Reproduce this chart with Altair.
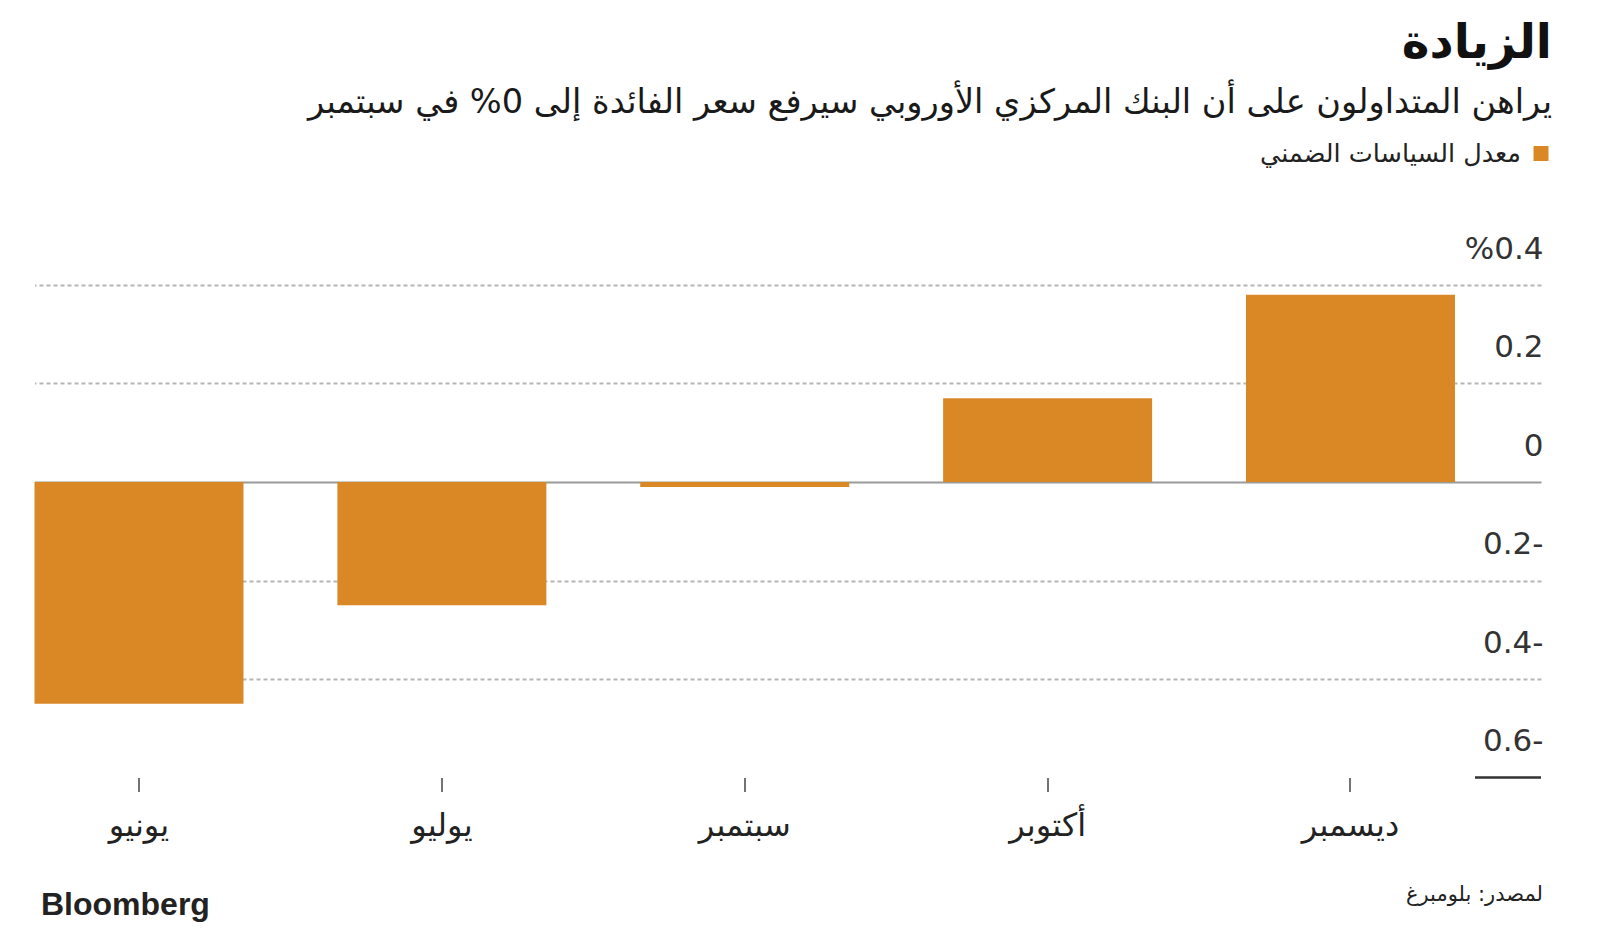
import altair as alt
import pandas as pd

# ---- data ----
months = ["يونيو", "يوليو", "سبتمبر", "أكتوبر", "ديسمبر"]
rates = [-0.45, -0.25, -0.01, 0.17, 0.38]
y_ticks = [-0.6, -0.4, -0.2, 0, 0.2, 0.4]

title_text = "الزيادة"
subtitle_text = "يراهن المتداولون على أن البنك المركزي الأوروبي سيرفع سعر الفائدة إلى 0% في سبتمبر"
legend_text = "معدل السياسات الضمني"
source_text = "لمصدر: بلومبرغ"
logo_text = "Bloomberg"

BAR = "#DA8826"
AR_FONT = "DejaVu Sans"
W = 1506.5
H = 492.5

df = pd.DataFrame({"month": months, "rate": rates})

label_expr = (
    "abs(datum.value - 0.4) < 0.001 ? '%0.4' : "
    "(datum.value < -0.001 ? format(-datum.value, '.1f') + '-' : "
    "(abs(datum.value) < 0.001 ? '0' : format(datum.value, '.1f')))"
)

bars = alt.Chart(df).mark_bar(color=BAR).encode(
    x=alt.X(
        "month:N",
        sort=months,
        scale=alt.Scale(paddingInner=0.31, paddingOuter=0.142, align=0),
        axis=alt.Axis(
            title=None,
            domain=False,
            ticks=True,
            tickSize=14,
            tickColor="#444444",
            tickWidth=1.5,
            labelFont=AR_FONT,
            labelFontSize=32,
            labelColor="#222222",
            labelBaseline="middle",
            labelPadding=34,
            labelAngle=0,
            grid=False,
        ),
    ),
    y=alt.Y(
        "rate:Q",
        scale=alt.Scale(domain=[-0.6, 0.4], nice=False, zero=False),
        axis=alt.Axis(
            title=None,
            orient="right",
            values=y_ticks,
            labelExpr=label_expr,
            domain=False,
            ticks=False,
            tickSize=0,
            labelAlign="right",
            labelBaseline="alphabetic",
            labelPadding=2,
            labelOffset=-27,
            labelFont="DejaVu Sans",
            labelFontSize=31,
            labelColor="#333333",
            grid=True,
            gridColor={"condition": {"test": "abs(datum.value) < 0.001", "value": "#9a9a9a"}, "value": "#b5b5b5"},
            gridDash={"condition": {"test": "abs(datum.value) < 0.001", "value": []}, "value": [4, 3]},
            gridWidth={"condition": {"test": "abs(datum.value) < 0.001", "value": 2.2}, "value": 2},
            gridOpacity={"condition": {"test": "abs(datum.value + 0.6) < 0.001", "value": 0}, "value": 1},
        ),
    ),
)

bottom_rule = alt.Chart(pd.DataFrame({"v": [y_ticks[0]]})).mark_rule(
    color="#333333", strokeWidth=2.5
).encode(y="v:Q", x=alt.value(W - 66), x2=alt.value(W))


def txt(text, x, y, size, align="right", weight="normal", font=AR_FONT, color="#111111", baseline="alphabetic"):
    return alt.Chart(pd.DataFrame({"t": [text]})).mark_text(
        align=align, baseline=baseline, fontSize=size, fontWeight=weight, font=font, color=color
    ).encode(text="t:N", x=alt.value(x), y=alt.value(y))


title = txt(title_text, W + 11, -227, 47, weight="bold")
subtitle = txt(subtitle_text, W + 11, -172, 33.6, color="#1a1a1a")
legend_sq = alt.Chart(pd.DataFrame({"t": [legend_text]})).mark_square(
    color=BAR, size=225, opacity=1
).encode(x=alt.value(W), y=alt.value(-131.5))
legend_lbl = txt(legend_text, W - 20, -131.5, 25.5, baseline="middle", color="#222222")
source = txt(source_text, W + 2, 610, 21, baseline="middle", color="#222222")
logo = txt(logo_text, 6.5, 620, 32, align="left", weight="bold", font="Liberation Sans", color="#222222", baseline="middle")

chart = alt.layer(
    bars, bottom_rule, title, subtitle, legend_sq, legend_lbl, source, logo
).properties(
    width=W,
    height=H,
    autosize=alt.AutoSizeParams(type="none"),
    padding={"left": 26.5, "top": 277, "right": 45, "bottom": 148},
    background="white",
).configure_view(stroke=None)

chart.save("out.html", embed_options={"renderer": "svg", "actions": False})
